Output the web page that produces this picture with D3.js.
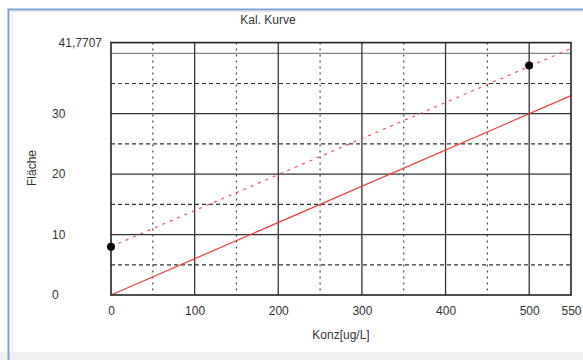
<!DOCTYPE html>
<html><head><meta charset="utf-8">
<script src="https://cdn.jsdelivr.net/npm/d3@7"></script>
<style>html,body{margin:0;padding:0;background:#fff;overflow:hidden}</style>
</head><body>
<svg id="c" width="583" height="360"></svg>
<script>
const title = "Kal. Kurve";
const xLabel = "Konz[ug/L]";
const yLabel = "Fläche";
const xTicks = [0, 100, 200, 300, 400, 500, 550];
const yTicks = [0, 10, 20, 30, 41.7707];
const yTickLabels = ["0", "10", "20", "30", "41,7707"];
const xMajorGrid = [100, 200, 300, 400, 500];
const xMinorGrid = [50, 150, 250, 350, 450];
const yMajorGrid = [10, 20, 30, 40];
const yMinorGrid = [5, 15, 25, 35];
const lineX = [0, 550];
const calibLine = [0, 33];
const upperLine = [8, 40.8];
const pointX = [0, 500];
const pointY = [8, 38];

const svg = d3.select("#c");
// frame
svg.append("rect").attr("x",0).attr("y",352).attr("width",583).attr("height",8).attr("fill","#f0f0f0");
svg.append("line").attr("x1",12.5).attr("x2",12.5).attr("y1",11).attr("y2",352).attr("stroke","#e4e4e4").attr("stroke-width",1);
svg.append("line").attr("x1",12).attr("x2",583).attr("y1",11.5).attr("y2",11.5).attr("stroke","#e4e4e4").attr("stroke-width",1);
svg.append("path").attr("d","M8.5,360V9.5H583").attr("fill","none").attr("stroke","#7fa2d8").attr("stroke-width",2);

const L=111, R=571, T=42.6, B=295;
const x = d3.scaleLinear().domain([0,550]).range([L,R]);
const y = d3.scaleLinear().domain([0,41.7707]).range([B,T]);
const g = svg.append("g");

// grid
g.selectAll(".ymin").data(yMinorGrid).join("line").attr("x1",L).attr("x2",R)
 .attr("y1",d=>y(d)).attr("y2",d=>y(d)).attr("stroke","#333").attr("stroke-width",1.2).attr("stroke-dasharray","4,3");
g.selectAll(".xmin").data(xMinorGrid).join("line").attr("y1",T).attr("y2",B)
 .attr("x1",d=>x(d)).attr("x2",d=>x(d)).attr("stroke","#444").attr("stroke-width",1.2).attr("stroke-dasharray","2,4");
g.selectAll(".ymaj").data(yMajorGrid).join("line").attr("x1",L).attr("x2",R)
 .attr("y1",d=>y(d)).attr("y2",d=>y(d)).attr("stroke",d=>d===40?"#888":"#333").attr("stroke-width",1.3);
g.selectAll(".xmaj").data(xMajorGrid).join("line").attr("y1",T).attr("y2",B)
 .attr("x1",d=>x(d)).attr("x2",d=>x(d)).attr("stroke","#333").attr("stroke-width",1.3);

// lines
const ln = d3.line().x(d=>x(d[0])).y(d=>y(d[1]));
g.append("path").datum(lineX.map((v,i)=>[v,calibLine[i]])).attr("d",ln)
 .attr("fill","none").attr("stroke","#f03c3c").attr("stroke-width",1.2);
g.append("path").datum(lineX.map((v,i)=>[v,upperLine[i]])).attr("d",ln)
 .attr("fill","none").attr("stroke","#f05050").attr("stroke-width",1.2).attr("stroke-dasharray","3,5");

// border
g.append("rect").attr("x",L).attr("y",T).attr("width",R-L).attr("height",B-T)
 .attr("fill","none").attr("stroke","#222").attr("stroke-width",1.6);

// points
g.selectAll(".pt").data(pointX.map((v,i)=>[v,pointY[i]])).join("circle")
 .attr("cx",d=>x(d[0])).attr("cy",d=>y(d[1])).attr("r",4).attr("fill","#000");

// axes labels
const font = "Liberation Sans, Arial, sans-serif";
const fs = 12;
const xAxis = d3.axisBottom(x).tickValues(xTicks).tickFormat(d3.format("d")).tickSize(0).tickPadding(0);
const xa = svg.append("g").attr("transform",`translate(0,${B+11})`).call(xAxis);
xa.select(".domain").remove();
xa.selectAll("text").attr("font-family",font).attr("font-size",fs).attr("fill","#333").attr("dy","0.71em");
xa.selectAll(".tick").filter(d=>d===550).select("text").attr("dx",0);

const yAxis = d3.axisLeft(y).tickValues(yTicks).tickFormat((d,i)=>yTickLabels[i]).tickSize(0).tickPadding(0);
const ya = svg.append("g").attr("transform",`translate(${L-9},0)`).call(yAxis);
ya.select(".domain").remove();
ya.selectAll("text").attr("font-family",font).attr("font-size",fs).attr("fill","#333");
ya.selectAll(".tick").filter(d=>d<41).select("text").attr("text-anchor","start").attr("dx",-50);

svg.append("text").attr("x",268).attr("y",24).attr("text-anchor","middle")
 .attr("font-family",font).attr("font-size",fs).attr("fill","#333").text(title);
svg.append("text").attr("x",341).attr("y",339).attr("text-anchor","middle")
 .attr("font-family",font).attr("font-size",fs).attr("fill","#333").text(xLabel);
svg.append("text").attr("transform","translate(36,168) rotate(-90)").attr("text-anchor","middle")
 .attr("font-family",font).attr("font-size",fs).attr("fill","#333").text(yLabel);
</script>
</body></html>
